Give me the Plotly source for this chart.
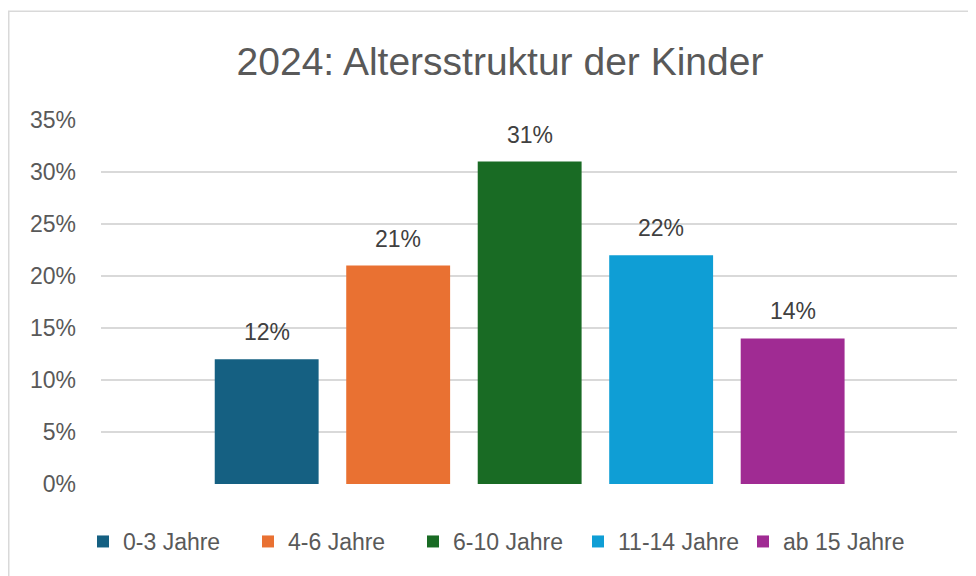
import plotly.graph_objects as go

# Data
categories = ["0-3 Jahre", "4-6 Jahre", "6-10 Jahre", "11-14 Jahre", "ab 15 Jahre"]
shares = [12, 21, 31, 22, 14]  # percent
colors = ["#156082", "#E97132", "#196B24", "#0F9ED5", "#A02B93"]
y_ticks = [0, 5, 10, 15, 20, 25, 30, 35]
y_tick_labels = [f"{t}%" for t in y_ticks]

FONT = "Liberation Sans, Arial, sans-serif"
TXT = "#595959"

# page has an 8px body margin -> figure drawn from (8, 8)
W, H = 968, 568
PL, PR, PT, PB = 93, 19, 112, 91.5
plot_w = W - PL - PR
plot_h = H - PT - PB

fig = go.Figure()
for i, (cat, v, c) in enumerate(zip(categories, shares, colors)):
    fig.add_trace(go.Bar(
        x=[i], y=[v], name=cat, width=0.79,
        marker=dict(color=c, line=dict(width=0)),
        hoverinfo="skip",
    ))
    fig.add_annotation(
        x=i, y=v, xref="x", yref="y", text=f"{v}%",
        showarrow=False, yanchor="bottom", yshift=12,
        font=dict(family=FONT, size=23, color="#404040"),
    )

# chart-area border
fig.add_shape(type="rect", xref="paper", yref="paper",
              x0=(0.75 - PL) / plot_w, x1=1.06,
              y0=-0.32, y1=(PT + plot_h - 3) / plot_h,
              line=dict(color="#D9D9D9", width=1.5), fillcolor="rgba(0,0,0,0)",
              layer="below")

fig.update_layout(
    width=W, height=H,
    margin=dict(l=PL, r=PR, t=PT, b=PB),
    paper_bgcolor="white", plot_bgcolor="white",
    title=dict(text="2024: Altersstruktur der Kinder",
               x=492 / W, xanchor="center", xref="container",
               y=1 - 53 / H, yanchor="middle", yref="container",
               font=dict(family=FONT, size=39, color=TXT)),
    font=dict(family=FONT, color=TXT),
    showlegend=True,
    legend=dict(orientation="h", x=(75 - PL) / plot_w, xanchor="left",
                y=-0.158, yanchor="middle",
                entrywidth=120, entrywidthmode="pixels",
                font=dict(family=FONT, size=23, color=TXT),
                bgcolor="rgba(0,0,0,0)"),
    xaxis=dict(range=[-1.26, 5.25], showticklabels=False, showgrid=False,
               zeroline=False, showline=False, fixedrange=True),
    yaxis=dict(range=[0, 35], tickmode="array", tickvals=y_ticks,
               ticktext=y_tick_labels,
               showgrid=True, gridcolor="#D9D9D9", gridwidth=1.5,
               zeroline=False, showline=False, ticks="",
               ticklabelstandoff=24,
               tickfont=dict(family=FONT, size=23, color=TXT)),
)

fig.write_html("out.html")
